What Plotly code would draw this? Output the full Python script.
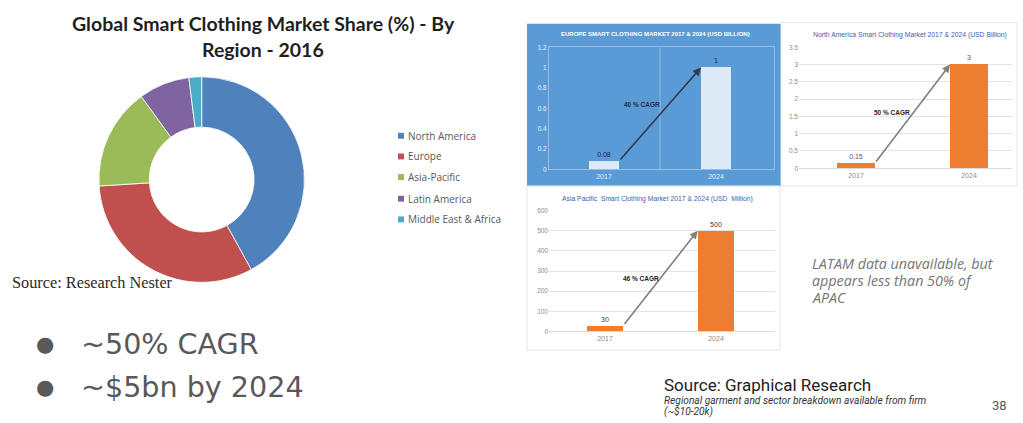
import plotly.graph_objects as go

# ---- data ----
regions = ["North America", "Europe", "Asia-Pacific", "Latin America", "Middle East & Africa"]
share_2016 = [42, 32, 16, 8, 2]
region_colors = ["#4F81BD", "#C0504D", "#9BBB59", "#8064A2", "#4BACC6"]

years = ["2017", "2024"]
europe_usd_bn = [0.08, 1]
na_usd_bn = [0.15, 3]
apac_usd_mn = [30, 500]
cagr_labels = ["40 % CAGR", "50 % CAGR", "46 % CAGR"]

W, H = 1023, 423


def X(px):
    return px / W


def Y(py):
    return 1 - py / H


def x_range(left_px, right_px, c0_px, c1_px):
    # numeric category axis: 0 -> c0_px, 1 -> c1_px
    unit = c1_px - c0_px
    return [-(c0_px - left_px) / unit, 1 + (right_px - c1_px) / unit]


fig = go.Figure()

# ---- donut ----
fig.add_trace(go.Pie(
    labels=regions, values=share_2016, hole=0.51, sort=False,
    direction="clockwise", rotation=0, textinfo="none",
    marker=dict(colors=region_colors, line=dict(color="white", width=0.8)),
    domain=dict(x=[X(97.7), X(305.7)], y=[Y(283), Y(74)]),
    showlegend=False, hoverinfo="label+percent",
))

# ---- bar panels ----
panels = [
    dict(vals=europe_usd_bn, xa="x", ya="y", color="#DEEBF7", w=0.27,
         yr=[0, 1.2], dt=0.2, tick="#E3EEF9", lab="#1F2A44",
         dom_x=(549, 774), c=(604, 716), dom_y=(44, 168)),
    dict(vals=na_usd_bn, xa="x2", ya="y2", color="#ED7D31", w=0.336,
         yr=[0, 3.5], dt=0.5, tick="#8C8C8C", lab="#595959",
         dom_x=(799, 1012), c=(856, 969), dom_y=(44, 167)),
    dict(vals=apac_usd_mn, xa="x3", ya="y3", color="#ED7D31", w=0.33,
         yr=[0, 600], dt=100, tick="#8C8C8C", lab="#404040",
         dom_x=(549, 775), c=(605, 716), dom_y=(210, 333)),
]

for p in panels:
    fig.add_trace(go.Bar(
        x=[0, 1], y=p["vals"], width=p["w"], xaxis=p["xa"], yaxis=p["ya"],
        marker=dict(color=p["color"], line=dict(width=0)),
        text=[str(v) for v in p["vals"]], textposition="outside",
        textfont=dict(size=7, color=p["lab"], family="Liberation Sans"),
        cliponaxis=False, showlegend=False,
    ))

layout_axes = {}
for i, p in enumerate(panels):
    sfx = "" if i == 0 else str(i + 1)
    europe = i == 0
    layout_axes["xaxis" + sfx] = dict(
        domain=[X(p["dom_x"][0]), X(p["dom_x"][1])],
        range=x_range(p["dom_x"][0], p["dom_x"][1], *p["c"]),
        tickvals=[0, 1], ticktext=years, showgrid=False, zeroline=False,
        showline=True,
        linecolor="rgba(255,255,255,0.35)" if europe else "#D9D9D9",
        mirror=europe, ticks="",
        tickfont=dict(size=7, color=p["tick"], family="Liberation Sans"),
        anchor="y" + sfx, fixedrange=True,
    )
    layout_axes["yaxis" + sfx] = dict(
        domain=[Y(p["dom_y"][1]), Y(p["dom_y"][0])],
        range=p["yr"], dtick=p["dt"], tick0=0,
        showgrid=not europe, gridcolor="#E3E3E3", gridwidth=1,
        zeroline=False, showline=europe,
        linecolor="rgba(255,255,255,0.35)", mirror=europe, ticks="",
        tickfont=dict(size=6.5, color=p["tick"], family="Liberation Sans"),
        anchor="x" + sfx, fixedrange=True,
    )

shapes = [
    # Europe panel background
    dict(type="rect", xref="paper", yref="paper", x0=X(527), x1=X(781),
         y0=Y(185), y1=Y(20), fillcolor="#5B9BD5", line=dict(width=0),
         layer="below"),
    # North America panel
    dict(type="rect", xref="paper", yref="paper", x0=X(781), x1=X(1017),
         y0=Y(185), y1=Y(19), fillcolor="white",
         line=dict(color="#E6E6E6", width=1), layer="below"),
    # Asia Pacific panel
    dict(type="rect", xref="paper", yref="paper", x0=X(527), x1=X(780),
         y0=Y(352), y1=Y(185), fillcolor="white",
         line=dict(color="#E6E6E6", width=1), layer="below"),
    # Europe category divider
    dict(type="line", xref="x", yref="y domain", x0=0.5, x1=0.5, y0=0, y1=1,
         line=dict(color="rgba(255,255,255,0.3)", width=1)),
]

# donut legend squares
legend_y = [134, 155, 176, 198, 219]
for ly, col in zip(legend_y, region_colors):
    shapes.append(dict(type="rect", xref="paper", yref="paper",
                       x0=X(398), x1=X(404), y0=Y(ly + 3), y1=Y(ly - 3),
                       fillcolor=col, line=dict(width=0)))

annotations = []

# growth arrows and CAGR labels
cagr_pos = [(0.34, 0.64), (0.32, 1.62), (0.32, 263)]
arrow_cols = ["#2E3A4F", "#7F7F7F", "#7F7F7F"]
for i, p in enumerate(panels):
    sfx = "" if i == 0 else str(i + 1)
    half = p["w"] / 2
    annotations.append(dict(
        x=1 - half, y=p["vals"][1], ax=half, ay=p["vals"][0],
        xref="x" + sfx, yref="y" + sfx, axref="x" + sfx, ayref="y" + sfx,
        text="", showarrow=True, arrowhead=2, arrowsize=1.0,
        arrowwidth=1.6, arrowcolor=arrow_cols[i], standoff=0, startstandoff=0,
    ))
    annotations.append(dict(
        x=cagr_pos[i][0], y=cagr_pos[i][1], xref="x" + sfx, yref="y" + sfx,
        text="<b>" + cagr_labels[i] + "</b>", showarrow=False,
        font=dict(size=6.5, color="#222222" if i else "#1F2A44",
                  family="Liberation Sans"),
    ))

# panel titles
titles = [
    ("<b>EUROPE SMART CLOTHING MARKET 2017 & 2024 (USD BILLION)</b>", 655, 31, "white", 6),
    ("North America Smart Clothing Market 2017 & 2024 (USD Billion)", 910, 32, "#3B5FB0", 6.8),
    ("Asia Pacific  Smart Clothing Market 2017 & 2024 (USD  Million)", 657, 198, "#3B5FB0", 6.8),
]
for t, x, y, col, sz in titles:
    annotations.append(dict(x=X(x), y=Y(y), xref="paper", yref="paper",
                            text=t, showarrow=False, xanchor="center",
                            yanchor="middle",
                            font=dict(size=sz, color=col, family="Liberation Sans")))

# donut title
for t, y in [("Global Smart Clothing Market Share (%) - By", 20),
             ("Region - 2016", 46)]:
    annotations.append(dict(x=X(263), y=Y(y), xref="paper", yref="paper",
                            text="<b>" + t + "</b>", showarrow=False,
                            xanchor="center", yanchor="middle",
                            font=dict(size=19.5, color="#1F1F1F", family="Lato")))

# donut legend text
for ly, name in zip(legend_y, regions):
    annotations.append(dict(x=X(406), y=Y(ly), xref="paper", yref="paper",
                            text=name, showarrow=False, xanchor="left",
                            yanchor="middle",
                            font=dict(size=10, color="#595959", family="Open Sans")))

annotations.append(dict(x=X(10), y=Y(283), xref="paper", yref="paper",
                        text="Source: Research Nester", showarrow=False,
                        xanchor="left", yanchor="middle",
                        font=dict(size=16.3, color="#2A2A2A", family="Liberation Serif")))

# key takeaways
for t, y in [("~50% CAGR", 346), ("~$5bn by 2024", 389)]:
    annotations.append(dict(x=X(45), y=Y(y), xref="paper", yref="paper",
                            text="●", showarrow=False, xanchor="center",
                            yanchor="middle",
                            font=dict(size=21, color="#595959", family="DejaVu Sans")))
    annotations.append(dict(x=X(79), y=Y(y), xref="paper", yref="paper",
                            text=t, showarrow=False, xanchor="left",
                            yanchor="middle",
                            font=dict(size=28.6, color="#595959", family="DejaVu Sans")))

for t, y in [("LATAM data unavailable, but", 264),
             ("appears less than 50% of", 281),
             ("APAC", 298)]:
    annotations.append(dict(x=X(810), y=Y(y), xref="paper", yref="paper",
                            text="<i>" + t + "</i>", showarrow=False,
                            xanchor="left", yanchor="middle",
                            font=dict(size=14.3, color="#757575", family="Open Sans")))

annotations.append(dict(x=X(662), y=Y(387), xref="paper", yref="paper",
                        text="Source: Graphical Research", showarrow=False,
                        xanchor="left", yanchor="middle",
                        font=dict(size=17, color="#222222", family="Roboto")))
for t, y in [("Regional garment and sector breakdown available from firm", 403),
             ("(~$10-20k)", 414)]:
    annotations.append(dict(x=X(662), y=Y(y), xref="paper", yref="paper",
                            text="<i>" + t + "</i>", showarrow=False,
                            xanchor="left", yanchor="middle",
                            font=dict(size=10.2, color="#333333", family="Roboto")))
annotations.append(dict(x=X(999), y=Y(408), xref="paper", yref="paper",
                        text="38", showarrow=False, xanchor="center",
                        yanchor="middle",
                        font=dict(size=13, color="#595959", family="Roboto")))

fig.update_layout(
    width=W, height=H, margin=dict(l=0, r=0, t=0, b=0),
    paper_bgcolor="white", plot_bgcolor="rgba(0,0,0,0)",
    shapes=shapes, annotations=annotations, bargap=0,
    **layout_axes,
)

fig.write_html("out.html")
